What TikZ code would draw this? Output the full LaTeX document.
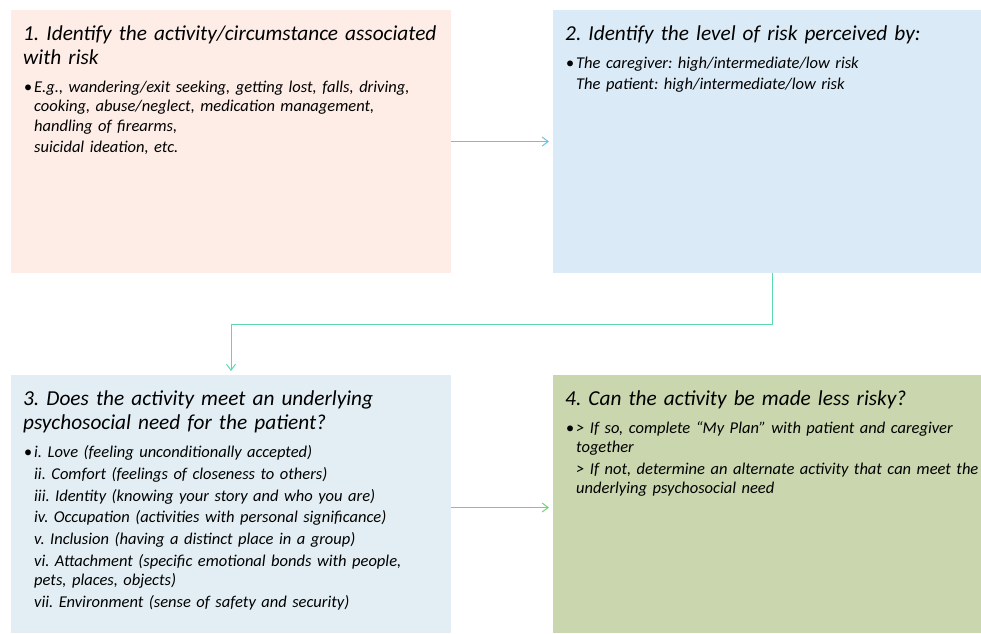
\documentclass[tikz,border=0pt]{standalone}
\usepackage{fontspec}
\setmainfont{Carlito}
\usetikzlibrary{positioning}
\usetikzlibrary{arrows.meta}

\definecolor{peachbg}{HTML}{FDEDE6}
\definecolor{skybg}{HTML}{DAEBF7}
\definecolor{mistbg}{HTML}{E2EEF4}
\definecolor{sagebg}{HTML}{CAD6AE}
\definecolor{arrblue}{HTML}{6CC0E6}
\definecolor{arrteal}{HTML}{5CD8B0}
\definecolor{arrgreen}{HTML}{78D078}

\newcommand{\stepitem}{\leavevmode\llap{\textbullet\hspace{2pt}}}

\tikzset{
  panel/.style={anchor=north west, inner sep=0pt, outer sep=0pt},
  steptitle/.style={inner sep=0pt, align=left, text width=#1,
    font=\fontsize{21.3}{24.5}\selectfont\itshape\frenchspacing},
  stepbody/.style={inner sep=0pt, align=left, text width=#1,
    font=\fontsize{16.5}{19.2}\selectfont\itshape\frenchspacing},
  flow/.style={line width=1pt, -{Straight Barb[length=6pt,width=9pt]}, shorten >=4pt}
}

\begin{document}
\begin{tikzpicture}[x=1pt,y=-1pt]
\useasboundingbox (0,0) rectangle (981,633);
% the four steps
\node[panel, fill=peachbg, minimum width=440, minimum height=263] (activity) at (11,10) {};
\node[panel, fill=skybg, minimum width=428, minimum height=263] (level) at (553,10) {};
\node[panel, fill=mistbg, minimum width=440, minimum height=258] (needs) at (11,375) {};
\node[panel, fill=sagebg, minimum width=428, minimum height=258] (plan) at (553,375) {};

\node[steptitle=440, below right=12.85pt and 12pt of activity.north west] (activity-title)
  {\strut 1. Identify the activity/circumstance associated\\ with risk};
\node[stepbody=440, below right=69.1pt and 12pt of activity.north west] (activity-text)
  {\leftskip=11pt\parskip=2.5pt\stepitem\strut E.g., wandering/exit seeking, getting lost, falls, driving,\\
   cooking, abuse/neglect, medication management,\\ handling of firearms,\par
   suicidal ideation, etc.\par};

\node[steptitle=440, below right=12.85pt and 12pt of level.north west] (level-title)
  {\strut 2. Identify the level of risk perceived by:};
\node[stepbody=440, below right=44.6pt and 12pt of level.north west] (level-text)
  {\leftskip=11pt\parskip=2.5pt\stepitem\strut The caregiver: high/intermediate/low risk\par
   The patient: high/intermediate/low risk\par};

\node[steptitle=440, below right=12.85pt and 12pt of needs.north west] (needs-title)
  {\strut 3. Does the activity meet an underlying\\ psychosocial need for the patient?};
\node[stepbody=440, below right=69.1pt and 12pt of needs.north west] (needs-text)
  {\leftskip=11pt\parskip=2.5pt\stepitem\strut i. Love (feeling unconditionally accepted)\par
   ii. Comfort (feelings of closeness to others)\par
   iii. Identity (knowing your story and who you are)\par
   iv. Occupation (activities with personal significance)\par
   v. Inclusion (having a distinct place in a group)\par
   vi. Attachment (specific emotional bonds with people,\\ pets, places, objects)\par
   vii. Environment (sense of safety and security)\par};

\node[steptitle=440, below right=12.85pt and 12pt of plan.north west] (plan-title)
  {\strut 4. Can the activity be made less risky?};
\node[stepbody=440, below right=44.6pt and 12pt of plan.north west] (plan-text)
  {\leftskip=11pt\parskip=2.5pt\stepitem\strut > If so, complete “My Plan” with patient and caregiver\\ together\par
   > If not, determine an alternate activity that can meet the\\ underlying psychosocial need\par};

% connectors
\draw[flow, arrblue] (activity) -- (level);
\draw[flow, arrteal] ([xshift=5.5pt]level.south) -- ++(0,51) -| (needs);
\draw[flow, arrgreen] ([yshift=-3.5pt]needs.east) -- ([yshift=-3.5pt]plan.west);
\end{tikzpicture}
\end{document}
